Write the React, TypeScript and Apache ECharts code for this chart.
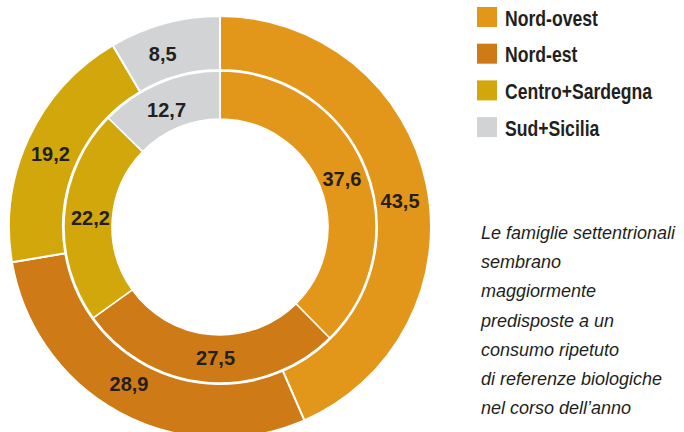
import React, { useEffect, useRef } from "react";
import * as echarts from "echarts";

const categories = ["Nord-ovest", "Nord-est", "Centro+Sardegna", "Sud+Sicilia"];
const innerValues = [37.6, 27.5, 22.2, 12.7];
const outerValues = [43.5, 28.9, 19.2, 8.5];
const colors = ["#E2961A", "#CD7A17", "#D2A70B", "#D1D3D4"];
const noteLines = [
  "Le famiglie settentrionali",
  "sembrano",
  "maggiormente",
  "predisposte a un",
  "consumo ripetuto",
  "di referenze biologiche",
  "nel corso dell\u2019anno",
];

// small label nudges (style only)
const innerLabelOffsets = [[-3, 3], [7, -4], [5, 1], [-1, 7]];
const outerLabelOffsets = [[-3, 12], [-2, -7], [0, 6], [-8, 7]];

const FONT = "'Liberation Sans', Arial, sans-serif";

export default function App() {
  const ref = useRef<HTMLDivElement>(null);
  useEffect(() => {
    if (!ref.current) return;
    const chart = echarts.init(ref.current, undefined, { renderer: "svg" });
    const fmt = (p: any) => String(p.value).replace(".", ",");
    const label = {
      show: true,
      position: "inside" as const,
      formatter: fmt,
      fontFamily: FONT,
      fontWeight: "bold" as const,
      fontSize: 20,
      color: "#231F20",
    };
    const legendGraphics: any[] = [];
    categories.forEach((c, i) => {
      const cy = 17 + i * 36.7;
      legendGraphics.push({
        type: "rect",
        shape: { x: 477, y: cy - 10, width: 20, height: 20 },
        style: { fill: colors[i] },
      });
      legendGraphics.push({
        type: "text",
        x: 505,
        y: cy + 1,
        scaleX: 0.8,
        style: {
          x: 0,
          y: 0,
          text: c,
          font: "bold 22px " + FONT,
          fill: "#231F20",
          align: "left",
          verticalAlign: "middle",
        },
      });
    });
    chart.setOption({
      animation: false,
      color: colors,
      graphic: [
        ...legendGraphics,
        {
          type: "text",
          left: 481,
          top: 218,
          style: {
            text: noteLines.join("\n"),
            font: "italic 18px " + FONT,
            lineHeight: 29.3,
            fill: "#231F20",
          },
        },
      ],
      series: [
        {
          type: "pie",
          name: "inner",
          center: [220, 227],
          radius: [108, 156],
          startAngle: 90,
          clockwise: true,
          label,
          labelLine: { show: false },
          emphasis: { disabled: true },
          itemStyle: { borderColor: "#fff", borderWidth: 1.5 },
          data: categories.map((c, i) => ({
            name: c,
            value: innerValues[i],
            label: { offset: innerLabelOffsets[i] },
          })),
        },
        {
          type: "pie",
          name: "outer",
          center: [220, 227],
          radius: [157, 211],
          startAngle: 90,
          clockwise: true,
          label,
          labelLine: { show: false },
          emphasis: { disabled: true },
          itemStyle: { borderColor: "#fff", borderWidth: 2 },
          data: categories.map((c, i) => ({
            name: c,
            value: outerValues[i],
            label: { offset: outerLabelOffsets[i] },
          })),
        },
      ],
    });
    return () => chart.dispose();
  }, []);
  return (
    <div
      ref={ref}
      style={{ position: "fixed", left: 0, top: 0, width: 684, height: 432, background: "#fff" }}
    />
  );
}
